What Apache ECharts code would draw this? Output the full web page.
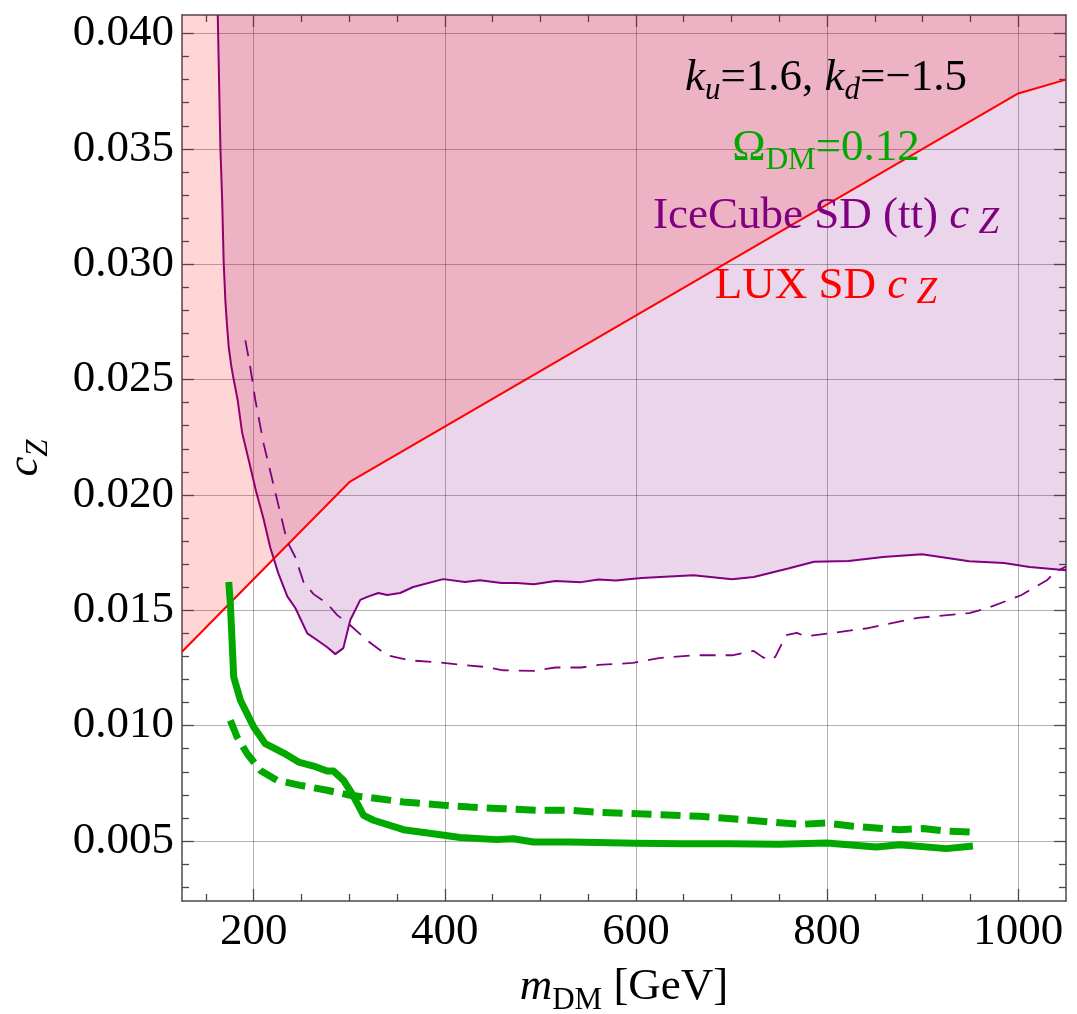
<!DOCTYPE html>
<html>
<head>
<meta charset="utf-8">
<script src="https://cdn.jsdelivr.net/npm/echarts@6/dist/echarts.min.js"></script>
<style>
html,body{margin:0;padding:0;background:#fff}
#chart{width:1077px;height:1014px}
</style>
</head>
<body>
<div id="chart"></div>
<script>
// axis ticks
var xMajor = [200, 400, 600, 800, 1000];
var xMinor = [150, 250, 300, 350, 450, 500, 550, 650, 700, 750, 850, 900, 950];
var yMajor = [0.005, 0.010, 0.015, 0.020, 0.025, 0.030, 0.035, 0.040];
var yMinor = [0.003, 0.004, 0.006, 0.007, 0.008, 0.009, 0.011, 0.012, 0.013, 0.014,
              0.016, 0.017, 0.018, 0.019, 0.021, 0.022, 0.023, 0.024, 0.026, 0.027,
              0.028, 0.029, 0.031, 0.032, 0.033, 0.034, 0.036, 0.037, 0.038, 0.039];

// LUX SD limit
var luxX = [125, 300, 1000, 1050];
var luxY = [0.0132, 0.02055, 0.0374, 0.0380];

// IceCube SD (tt) solid
var iceX = [162.4, 165.2, 167, 168.6, 170.4, 172, 173.9, 176.5, 179.1, 183.3, 187.9, 196.6, 202.8, 210.1,
            217.5, 225.8, 235.2, 243.6, 256.1, 266.6, 277, 285.4, 293.8, 301.1, 311.6, 318.9,
            330.4, 339.8, 353.3, 366.9, 398.3, 421, 436.8, 459.3, 475.1, 493.2, 515.7, 542.7,
            560.8, 578.9, 606, 660.1, 700.7, 723.3, 759.3, 786.4, 822.6, 858.6, 899.3, 948.8,
            985, 1012, 1050];
var iceY = [0.0408, 0.0350, 0.0328, 0.0301, 0.0284, 0.0274, 0.0264, 0.0256, 0.0250, 0.0241, 0.0227, 0.0212, 0.0201, 0.0190,
            0.0177, 0.0166, 0.0156, 0.0151, 0.0140, 0.0137, 0.0134, 0.0131, 0.01336, 0.01458, 0.01545, 0.01558,
            0.01575, 0.01566, 0.01575, 0.01601, 0.01635, 0.01623, 0.0163, 0.01618, 0.01618, 0.01613, 0.01627, 0.01622,
            0.01633, 0.01629, 0.0164, 0.01652, 0.01635, 0.01644, 0.01681, 0.0171, 0.01714, 0.01731, 0.01743, 0.01713,
            0.01705, 0.01688, 0.01674];

// IceCube dashed
var iceDX = [191.3, 195.8, 201.8, 210.5, 222.7, 234.9, 243.6, 252.3, 262.7, 276.7, 287.2, 301.1,
             318.5, 339.4, 363.8, 398.6, 421, 443.5, 461.3, 492.7, 515.7, 542.7, 560.8, 596.9,
             624, 660.1, 700.7, 723.3, 732.2, 739, 745.8, 757.1, 768.4, 777.4, 800, 840.5,
             894.7, 948.8, 966.9, 1003, 1030, 1039, 1050];
var iceDY = [0.0267, 0.0257, 0.0241, 0.0222, 0.0201, 0.0180, 0.0173, 0.0162, 0.0157, 0.0153, 0.0148, 0.01435,
             0.0137, 0.01305, 0.01283, 0.01272, 0.01262, 0.01254, 0.0124, 0.01237, 0.01252, 0.01252, 0.01263, 0.01272,
             0.01293, 0.01305, 0.01305, 0.01324, 0.01298, 0.01283, 0.01298, 0.01392, 0.01402, 0.01387, 0.01399, 0.01421,
             0.01467, 0.01488, 0.01508, 0.01565, 0.0163, 0.01666, 0.0169];

// relic density, solid
var relX = [173.9, 175.6, 179.1, 186.1, 194.8, 200, 212.2, 231.4, 247, 262.7, 276.7, 283.6,
            294.1, 302.9, 315, 325.4, 356.8, 391.7, 416, 454.4, 471.8, 492.7, 531, 600,
            650, 700, 749.6, 799.4, 851.6, 876, 924.8, 952.6];
var relY = [0.01623, 0.01529, 0.01211, 0.0111, 0.01038, 0.00994, 0.00922, 0.00881, 0.00842, 0.00825, 0.00803, 0.00803,
            0.00763, 0.00705, 0.00611, 0.0059, 0.00549, 0.00529, 0.00515, 0.00506, 0.0051, 0.00496, 0.00496, 0.0049,
            0.00488, 0.00488, 0.00486, 0.00491, 0.00474, 0.00484, 0.00467, 0.00478];

// relic density, dashed
var relDX = [175.6, 182.6, 193.1, 207, 224.5, 248.8, 276.7, 301.1, 322, 356.8, 398.6, 426.5,
             461.3, 496.2, 531, 562.4, 614.7, 667, 719.3, 771.6, 799.4, 827.2, 876, 900.3,
             924.8, 950.9];
var relDY = [0.01023, 0.00951, 0.00879, 0.00806, 0.00763, 0.00741, 0.0072, 0.00698, 0.00688, 0.00669, 0.00655, 0.00647,
             0.0064, 0.00633, 0.00633, 0.00624, 0.00616, 0.00607, 0.0059, 0.00572, 0.00578, 0.00564, 0.00549, 0.00554,
             0.00543, 0.00539];

var FONT = 'Liberation Serif';
var frameCol = '#4a4a4a';
var green = '#00a800', purple = '#800080', red = '#ff0000';

var zip = function (xs, ys) {
	var out = [];
	for (var i = 0; i < xs.length; i++) out.push([xs[i], ys[i]]);
	return out;
};

//富文本样式 (下标)
var subRich = function (col) {
	var st = function (o) { o.fontFamily = FONT; o.color = col; o.fill = col; return o; };
	return {
		n: st({fontSize: 45}),
		i: st({fontSize: 45, fontStyle: 'italic'}),
		s: st({fontSize: 31, padding: [26, 0, 0, 0]}),
		is: st({fontSize: 31, fontStyle: 'italic', padding: [26, 0, 0, 0]}),
		z: st({fontSize: 37, fontStyle: 'italic', padding: [14, 0, 0, 0]})
	};
};

var xAx = function (pos, vals, len, major) {
	return {
		type: 'value', position: pos, min: 125, max: 1050,
		axisLine: {show: major, onZero: false, lineStyle: {color: frameCol, width: 1.5}},
		axisTick: {show: true, inside: true, length: len, customValues: vals, lineStyle: {color: frameCol, width: 1.3}},
		axisLabel: {show: false},
		splitLine: {show: false}
	};
};
var yAx = function (pos, vals, len, major) {
	return {
		type: 'value', position: pos, min: 0.0024, max: 0.0408,
		axisLine: {show: major, onZero: false, lineStyle: {color: frameCol, width: 1.5}},
		axisTick: {show: true, inside: true, length: len, customValues: vals, lineStyle: {color: frameCol, width: 1.3}},
		axisLabel: {show: false},
		splitLine: {show: false}
	};
};

var xMain = xAx('bottom', xMajor, 12, true);
xMain.axisLabel = {show: true, customValues: xMajor, fontFamily: FONT, fontSize: 45, color: '#000', margin: 9,
	formatter: function (v) { return String(v); }};
xMain.splitLine = {show: true, lineStyle: {color: 'rgba(0,0,0,0.3)', width: 1}};
xMain.name = '{i|m}{s|DM}{n| [GeV]}';
xMain.nameLocation = 'middle';
xMain.nameGap = 58;
xMain.nameTextStyle = {rich: subRich('#000')};

var yMain = yAx('left', yMajor, 12, true);
yMain.axisLabel = {show: true, customValues: yMajor, fontFamily: FONT, fontSize: 45, color: '#000', margin: 8,
	padding: [0, 0, 9, 0],
	formatter: function (v) { return v.toFixed(3); }};
yMain.splitLine = {show: true, lineStyle: {color: 'rgba(0,0,0,0.3)', width: 1}};
yMain.name = '{i|c}{is|Z}';
yMain.nameLocation = 'middle';
yMain.nameGap = 128;
yMain.nameTextStyle = {rich: subRich('#000')};

var option = {
	backgroundColor: '#fff',
	animation: false,
	grid: {left: 182, right: 11, top: 15, bottom: 113, containLabel: false, outerBoundsMode: 'none'},
	xAxis: [xMain, xAx('bottom', xMinor, 7, false), xAx('top', xMajor, 12, true), xAx('top', xMinor, 7, false)],
	yAxis: [yMain, yAx('left', yMinor, 7, false), yAx('right', yMajor, 12, true), yAx('right', yMinor, 7, false)],
	series: [
		{
			name: 'LUX', type: 'line', data: zip(luxX, luxY), symbol: 'none',
			lineStyle: {color: red, width: 2},
			areaStyle: {color: 'rgba(255,0,0,0.16)', opacity: 1, origin: 'end'},
			z: 3
		},
		{
			name: 'IceCube', type: 'line', data: zip(iceX, iceY), symbol: 'none',
			lineStyle: {color: purple, width: 2},
			areaStyle: {color: 'rgba(128,0,128,0.165)', opacity: 1, origin: 'end'},
			z: 2
		},
		{
			name: 'IceCube dashed', type: 'line', data: zip(iceDX, iceDY), symbol: 'none',
			lineStyle: {color: purple, width: 1.8, type: [16, 10]},
			z: 4
		},
		{
			name: 'relic', type: 'line', data: zip(relX, relY), symbol: 'none',
			lineStyle: {color: green, width: 7, join: 'round'},
			z: 5
		},
		{
			name: 'relic dashed', type: 'line', data: zip(relDX, relDY), symbol: 'none',
			lineStyle: {color: green, width: 7, type: [20, 9]},
			z: 5
		}
	],
	graphic: [
		{type: 'text', x: 826, y: 78, z: 10, style: {text: '{i|k}{is|u}{n|=1.6, }{i|k}{is|d}{n|=\u22121.5}',
			rich: subRich('#000'), fill: '#000', align: 'center', verticalAlign: 'middle'}},
		{type: 'text', x: 826, y: 148, z: 10, style: {text: '{n|\u03A9}{s|DM}{n|=0.12}',
			rich: subRich(green), fill: green, align: 'center', verticalAlign: 'middle'}},
		{type: 'text', x: 826, y: 216, z: 10, style: {text: '{n|IceCube SD (tt) }{i|c}{z| Z}',
			rich: subRich(purple), fill: purple, align: 'center', verticalAlign: 'middle'}},
		{type: 'text', x: 826, y: 286, z: 10, style: {text: '{n|LUX SD }{i|c}{z| Z}',
			rich: subRich(red), fill: red, align: 'center', verticalAlign: 'middle'}}
	]
};

var chart = echarts.init(document.getElementById('chart'), null, {renderer: 'canvas'});
chart.setOption(option);
</script>
</body>
</html>
